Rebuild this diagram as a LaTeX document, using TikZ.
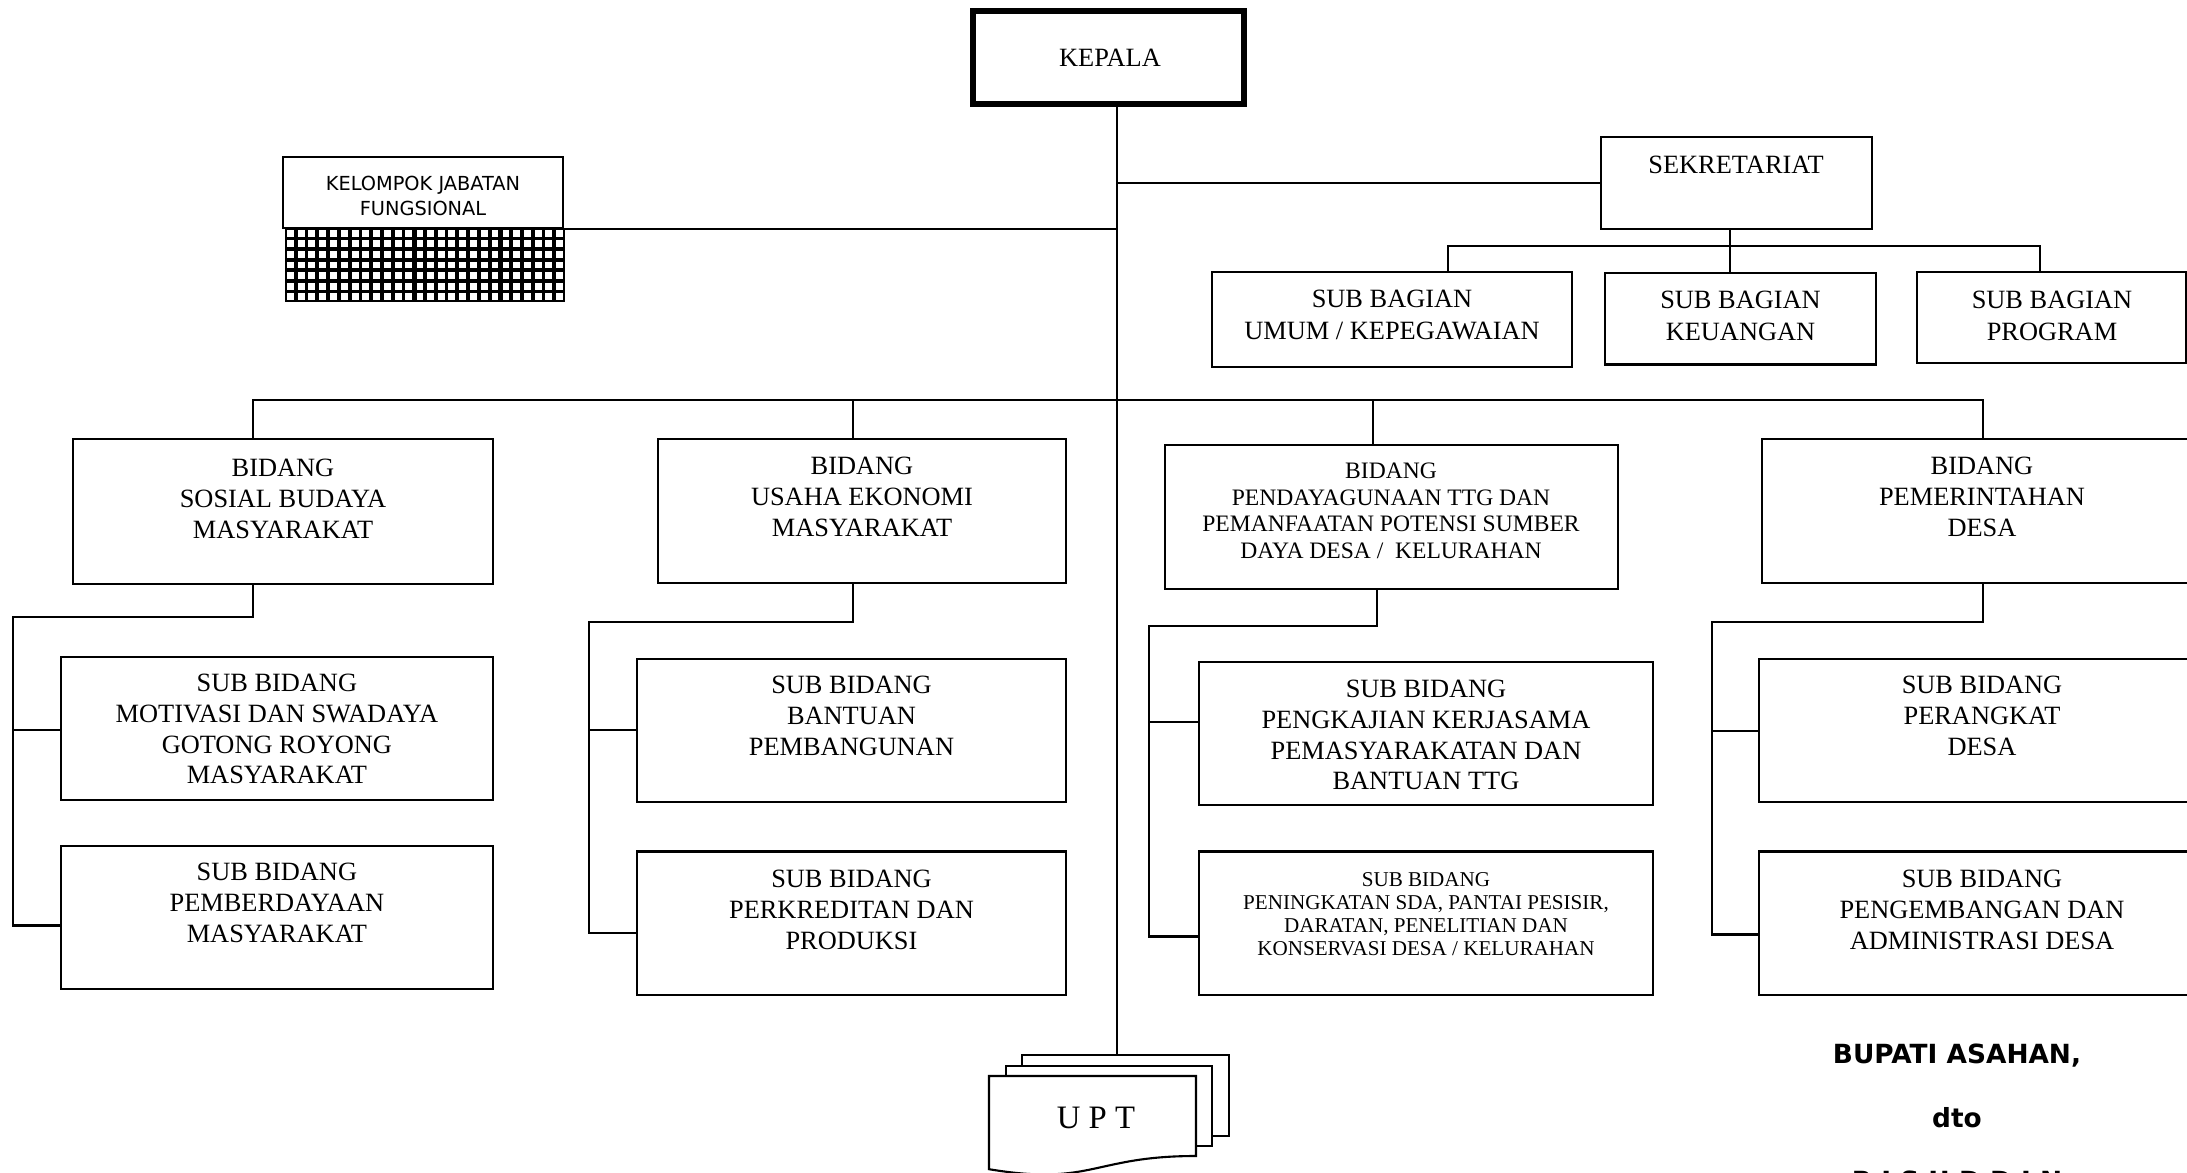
\documentclass[tikz,border=0pt]{standalone}
\usepackage{fontspec}
\setmainfont{Liberation Serif}
\newfontfamily\tahfont{DejaVu Sans}
\usetikzlibrary{fit}

\newcommand\fsz[2]{\fontsize{#1}{#2}\selectfont}
% box given by its corners: name, left, top, right, bottom
\newcommand\orgbox[5]{\node[orgframe, fit={(#2,#3) (#4,#5)}] (#1) {};}

\begin{document}
\begin{tikzpicture}[x=0.01cm, y=-0.01cm, line width=0.6pt,
  orgframe/.style={draw, rectangle, inner sep=0pt, line width=0.6pt},
  lbl/.style={align=center, inner sep=0pt, anchor=north, font=\fsz{7.5}{8.7}},
  lblsb/.style={lbl, font=\fsz{7.5}{9.1}},
  lblmid/.style={lbl, font=\fsz{6.7}{7.54}},
  lblsmall/.style={lbl, font=\fsz{6.0}{6.54}},
  lblsans/.style={lbl, font=\tahfont\fsz{5.5}{6.94}},
  signtext/.style={inner sep=0pt, anchor=base, font=\tahfont\bfseries\fsz{7.5}{9}},
  sheet/.style={draw, fill=white, line width=0.6pt, inner sep=0pt, rectangle}]

\useasboundingbox (0,0) rectangle (2187,1173);
\fill[white] (0,0) rectangle (2187,1173);
\clip (0,0) rectangle (2187,1173);

% ---------- head ----------
\node[orgframe, line width=1.7pt, fit={(973,11.3) (1243.7,103.7)}] (kepala) {};
\node[inner sep=0pt, font=\fsz{7.5}{8.7}] (kepala-t) at (1110,58) {KEPALA};

% ---------- functional group with hatched base ----------
\fill[black] (285,228) rectangle (565,302);
\foreach \i in {0,...,25}
  \foreach \j in {0,...,6}
    \fill[white] ({285+\i*10.77+1.9},{228+\j*10.57+1.9}) rectangle ++(7,6.8);
\foreach \k in {4,12,20}
  \fill[black] ({285+\k*10.77-2.4},228) rectangle ++(4.8,74);
\orgbox{kjf}{283}{157}{563}{228}
\node[lblsans] (kjf-t) at (423,175.2) {KELOMPOK JABATAN\\FUNGSIONAL};

% ---------- secretariat ----------
\orgbox{sek}{1600.8}{137}{1872}{229}
\node[lbl] (sek-t) at (1736,155.3) {SEKRETARIAT};

\orgbox{umum}{1212}{272}{1572}{366.7}
\node[lblsb] (umum-t) at (1392,289.3) {SUB BAGIAN\\UMUM / KEPEGAWAIAN};
\orgbox{keu}{1605}{272.7}{1876}{364.5}
\node[lblsb] (keu-t) at (1740.5,290.3) {SUB BAGIAN\\KEUANGAN};
\orgbox{prog}{1917}{271.7}{2186}{363}
\node[lblsb] (prog-t) at (2052,289.6) {SUB BAGIAN\\PROGRAM};

% ---------- divisions ----------
\orgbox{bs}{73}{439}{493}{583.6}
\node[lbl] (bs-t) at (283,458.3) {BIDANG\\SOSIAL BUDAYA\\MASYARAKAT};
\orgbox{s11}{60.7}{656.7}{493}{800}
\node[lbl] (s11-t) at (276.9,673.3) {SUB BIDANG\\MOTIVASI DAN SWADAYA\\GOTONG ROYONG\\MASYARAKAT};
\orgbox{s12}{60.7}{846}{493}{988.7}
\node[lbl] (s12-t) at (276.9,862.3) {SUB BIDANG\\PEMBERDAYAAN\\MASYARAKAT};

\orgbox{bu}{658}{439}{1066}{582.8}
\node[lbl] (bu-t) at (862,456.3) {BIDANG\\USAHA EKONOMI\\MASYARAKAT};
\orgbox{s21}{637}{658.7}{1066}{802}
\node[lbl] (s21-t) at (851.5,675.3) {SUB BIDANG\\BANTUAN\\PEMBANGUNAN};
\orgbox{s22}{637}{851.5}{1066}{994.6}
\node[lbl] (s22-t) at (851.5,869.3) {SUB BIDANG\\PERKREDITAN DAN\\PRODUKSI};

\orgbox{bp}{1164.6}{445}{1618}{588.7}
\node[lblmid] (bp-t) at (1391,462.2) {BIDANG\\PENDAYAGUNAAN TTG DAN\\PEMANFAATAN POTENSI SUMBER\\DAYA DESA /\ \ KELURAHAN};
\orgbox{s31}{1199}{661.8}{1653}{805}
\node[lbl, font=\fsz{7.5}{8.73}] (s31-t) at (1426,679.3) {SUB BIDANG\\PENGKAJIAN KERJASAMA\\PEMASYARAKATAN DAN\\BANTUAN TTG};
\orgbox{s32}{1199}{851.5}{1653}{994.6}
\node[lblsmall] (s32-t) at (1426,871) {SUB BIDANG\\PENINGKATAN SDA, PANTAI PESISIR,\\DARATAN, PENELITIAN DAN\\KONSERVASI DESA / KELURAHAN};

\orgbox{bpd}{1762}{439}{2202}{583}
\node[lbl] (bpd-t) at (1982,456.3) {BIDANG\\PEMERINTAHAN\\DESA};
\orgbox{s41}{1759}{658.7}{2204}{802}
\node[lbl] (s41-t) at (1982,675.3) {SUB BIDANG\\PERANGKAT\\DESA};
\orgbox{s42}{1759}{851.5}{2204}{994.6}
\node[lbl] (s42-t) at (1982,869.3) {SUB BIDANG\\PENGEMBANGAN DAN\\ADMINISTRASI DESA};

% ---------- UPT stack ----------
\node[sheet, fit={(1021.7,1055) (1229,1136)}] (upt3) {};
\node[sheet, fit={(1005.7,1065.7) (1211.7,1146)}] (upt2) {};
\draw[fill=white] (989,1076) -- (1196,1076) -- (1196,1156)
  .. controls (1092.5,1156) and (1092.5,1186.4) .. (989,1169.2) -- cycle;
\node[inner sep=0pt, font=\fsz{9.3}{11}] (upt) at (1096,1118) {U P T};

% ---------- connectors ----------
\coordinate (trunk) at (1117,400);
\draw (trunk |- kepala.south) -- (trunk |- upt3.north);
\draw (kjf.south east) -- (trunk |- kjf.south east);
\draw (trunk |- sek.west) -- (sek.west);

\coordinate (sbus) at (1730,246);
\coordinate (sbl) at (1448,246);
\coordinate (sbr) at (2040,246);
\draw (sbus |- sek.south) -- (sbus |- keu.north);
\draw (sbl |- umum.north) -- (sbl) -- (sbr) -- (sbr |- prog.north);

\coordinate (bl) at (253,400);
\coordinate (br) at (1983,400);
\coordinate (b2) at (853,400);
\coordinate (b3) at (1373,400);
\draw (bl |- bs.north) -- (bl) -- (br) -- (br |- bpd.north);
\draw (b2) -- (b2 |- bu.north);
\draw (b3) -- (b3 |- bp.north);

% column 1
\coordinate (c1) at (253,617);
\coordinate (c1l) at (13,617);
\coordinate (c1a) at (13,730);
\coordinate (c1b) at (13,925.5);
\draw (c1 |- bs.south) -- (c1) -- (c1l) -- (c1b) -- (c1b -| s12.west);
\draw (c1a) -- (c1a -| s11.west);

% column 2
\coordinate (c2) at (853,622);
\coordinate (c2l) at (589,622);
\coordinate (c2a) at (589,730);
\coordinate (c2b) at (589,933);
\draw (c2 |- bu.south) -- (c2) -- (c2l) -- (c2b) -- (c2b -| s22.west);
\draw (c2a) -- (c2a -| s21.west);

% column 3
\coordinate (c3) at (1377,626);
\coordinate (c3l) at (1149,626);
\coordinate (c3a) at (1149,722);
\coordinate (c3b) at (1149,936.5);
\draw (c3 |- bp.south) -- (c3) -- (c3l) -- (c3b) -- (c3b -| s32.west);
\draw (c3a) -- (c3a -| s31.west);

% column 4
\coordinate (c4) at (1983,622);
\coordinate (c4l) at (1712,622);
\coordinate (c4a) at (1712,730.6);
\coordinate (c4b) at (1712,934.5);
\draw (c4 |- bpd.south) -- (c4) -- (c4l) -- (c4b) -- (c4b -| s42.west);
\draw (c4a) -- (c4a -| s41.west);

% ---------- signature block ----------
\node[signtext] (sign1) at (1957,1063.3) {BUPATI ASAHAN,};
\node[signtext] (sign2) at (1957,1127.7) {dto};
\node[signtext, anchor=north] (sign3) at (1957,1170) {R I S U D D I N};

\end{tikzpicture}
\end{document}
